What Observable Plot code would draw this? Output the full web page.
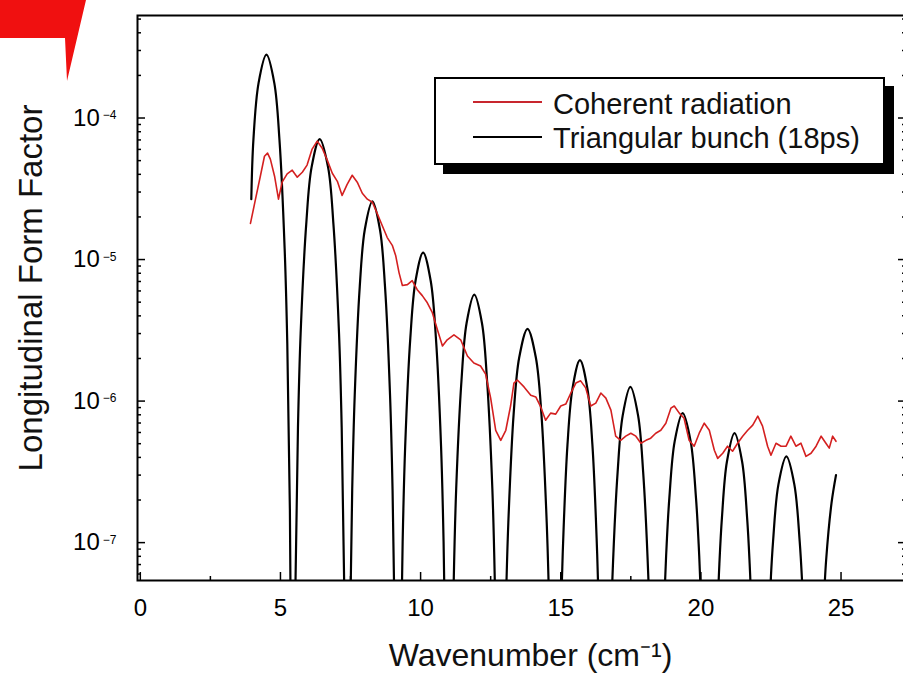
<!DOCTYPE html>
<html><head><meta charset="utf-8">
<script src="https://cdn.jsdelivr.net/npm/d3@7"></script>
<script src="https://cdn.jsdelivr.net/npm/@observablehq/plot@0.6"></script>
<style>
html,body{margin:0;padding:0;background:#fff;overflow:hidden;width:903px;height:676px;}
#wrap{position:relative;width:903px;height:676px;overflow:hidden;font-family:'Liberation Sans',Arial,sans-serif;}
#legend{position:absolute;left:434px;top:77px;width:447px;height:84px;border:2px solid #000;background:#fff;box-shadow:9px 9px 0 #000;}
.sw{position:absolute;left:37px;width:69px;height:0;border-top:2px solid;}
.lt{position:absolute;left:117px;font-size:29px;line-height:30px;color:#111;white-space:nowrap;}
#deco{position:absolute;left:0;top:0;width:90px;height:85px;background:#f01010;clip-path:polygon(0 0,86px 0,67px 81px,65px 38px,0 38px);}
</style></head>
<body><div id="wrap"></div>
<script>
// Tick values
const majorX = [0, 5, 10, 15, 20, 25];
const minorX = [2.5, 7.5, 12.5, 17.5, 22.5];
const majorY = [1e-7, 1e-6, 1e-5, 1e-4];
const minorY = [6e-8, 7e-8, 8e-8, 9e-8, 2e-7, 3e-7, 4e-7, 5e-7, 6e-7, 7e-7, 8e-7, 9e-7,
  2e-6, 3e-6, 4e-6, 5e-6, 6e-6, 7e-6, 8e-6, 9e-6, 2e-5, 3e-5, 4e-5, 5e-5, 6e-5, 7e-5, 8e-5, 9e-5,
  2e-4, 3e-4, 4e-4, 5e-4];

// Series names / labels
const seriesNames = ["Coherent radiation", "Triangular bunch (18ps)"];
const xLabel = "Wavenumber (cm\u207B\u00B9)";
const yLabel = "Longitudinal Form Factor";

// Coherent radiation (measured)
const redX = [3.93,4.11,4.29,4.43,4.54,4.64,4.79,4.93,5.06,5.24,
  5.42,5.60,5.78,5.95,6.13,6.31,6.49,6.67,6.85,7.03,
  7.20,7.38,7.56,7.74,7.92,8.10,8.28,8.45,8.63,8.81,
  8.99,9.11,9.23,9.35,9.53,9.70,9.88,10.06,10.24,10.42,
  10.60,10.78,10.95,11.19,11.43,11.67,11.90,12.14,12.32,12.50,
  12.68,12.86,13.04,13.21,13.33,13.45,13.69,13.93,14.11,14.29,
  14.46,14.64,14.82,15.00,15.18,15.36,15.54,15.71,15.89,16.07,
  16.25,16.43,16.61,16.79,16.96,17.14,17.32,17.50,17.68,17.86,
  18.04,18.21,18.39,18.57,18.75,18.93,19.05,19.23,19.40,19.58,
  19.76,19.94,20.12,20.30,20.48,20.60,20.78,20.95,21.13,21.31,
  21.49,21.67,21.85,22.03,22.20,22.38,22.50,22.68,22.86,23.04,
  23.21,23.39,23.57,23.75,23.93,24.11,24.29,24.46,24.58,24.70,
  24.82];
const redY = [1.80e-5,2.67e-5,3.94e-5,5.37e-5,5.65e-5,5.12e-5,3.88e-5,2.67e-5,3.52e-5,4.03e-5,
  4.28e-5,3.82e-5,4.14e-5,4.65e-5,6.03e-5,6.87e-5,6.12e-5,5.04e-5,4.07e-5,3.57e-5,
  2.84e-5,3.40e-5,3.94e-5,3.52e-5,2.94e-5,2.67e-5,2.54e-5,2.12e-5,1.74e-5,1.43e-5,
  1.26e-5,1.07e-5,8.09e-6,6.55e-6,6.65e-6,7.10e-6,6.12e-6,5.56e-6,4.95e-6,4.21e-6,
  3.19e-6,2.45e-6,2.71e-6,2.94e-6,2.71e-6,2.08e-6,1.86e-6,1.77e-6,1.55e-6,1.05e-6,
  6.22e-7,5.28e-7,6.22e-7,9.23e-7,1.34e-6,1.41e-6,1.26e-6,1.10e-6,1.07e-6,9.06e-7,
  7.33e-7,8.22e-7,8.09e-7,9.23e-7,9.53e-7,1.14e-6,1.34e-6,1.39e-6,1.24e-6,9.23e-7,
  9.68e-7,1.14e-6,1.05e-6,8.63e-7,5.65e-7,5.28e-7,5.65e-7,5.93e-7,5.65e-7,5.04e-7,
  5.28e-7,5.47e-7,5.93e-7,6.22e-7,6.98e-7,8.91e-7,9.23e-7,8.22e-7,7.57e-7,5.28e-7,
  4.80e-7,5.93e-7,6.98e-7,6.22e-7,4.49e-7,3.94e-7,4.28e-7,4.80e-7,4.42e-7,5.04e-7,
  5.65e-7,6.22e-7,6.76e-7,7.83e-7,6.65e-7,4.80e-7,4.14e-7,5.04e-7,4.80e-7,4.80e-7,
  5.65e-7,4.80e-7,5.04e-7,4.07e-7,4.28e-7,4.80e-7,5.65e-7,5.04e-7,4.65e-7,5.65e-7,
  5.20e-7];

// Triangular bunch (18ps) form factor
const blackX = [3.96,4.035,4.22,4.5,4.78,4.965,5.15,5.244,5.337,5.43,
  5.53,5.625,5.72,5.92,6.11,6.4,6.7,6.89,7.09,7.185,7.28,7.38,
  7.47,7.56,7.65,7.83,8.01,8.28,8.55,8.73,8.91,9.0,9.09,9.18,
  9.27,9.36,9.45,9.635,9.82,10.09,10.36,10.545,10.73,10.82,10.91,11.0,
  11.09,11.18,11.27,11.46,11.64,11.915,12.19,12.37,12.56,12.65,12.74,12.83,
  13.03,13.13,13.32,13.52,13.815,14.11,14.31,14.5,14.6,14.8,
  14.98,15.07,15.24,15.42,15.685,15.95,16.13,16.3,16.39,16.57,
  16.75,16.84,17.03,17.21,17.485,17.76,17.94,18.13,18.22,18.4,
  18.685,18.78,18.875,19.065,19.35,19.635,19.825,19.92,20.015,20.3,
  20.57,20.66,20.75,20.93,21.2,21.47,21.65,21.74,21.83,22.1,
  22.385,22.48,22.575,22.765,23.05,23.335,23.525,23.62,23.715,24.0,
  24.28,24.38,24.47,24.66,24.82];
const blackY = [2.67e-5,7.0e-5,1.77e-4,2.8e-4,1.77e-4,7.0e-5,1.19e-5,2.55e-6,1.69e-7,1e-9,
  4.3e-8,6.5e-7,3.0e-6,1.78e-5,4.48e-5,7.1e-5,4.48e-5,1.78e-5,3.0e-6,6.5e-7,4.3e-8,1e-9,
  1.55e-8,2.35e-7,1.1e-6,6.47e-6,1.63e-5,2.58e-5,1.63e-5,6.47e-6,1.1e-6,2.35e-7,1.55e-8,1e-9,
  7e-9,1.02e-7,4.79e-7,2.82e-6,7.08e-6,1.12e-5,7.08e-6,2.82e-6,4.79e-7,1.02e-7,7e-9,1e-9,
  3.4e-9,5.1e-8,2.4e-7,1.41e-6,3.55e-6,5.65e-6,3.55e-6,1.41e-6,2.4e-7,5.1e-8,3.4e-9,1e-9,
  2.95e-8,1.38e-7,8.13e-7,2.04e-6,3.24e-6,2.04e-6,8.13e-7,1.38e-7,2.95e-8,1e-9,
  1.78e-8,8.3e-8,4.9e-7,1.23e-6,1.95e-6,1.23e-6,4.9e-7,8.3e-8,1.78e-8,1e-9,
  1.15e-8,5.36e-8,3.16e-7,7.9e-7,1.26e-6,7.9e-7,3.16e-7,5.36e-8,1.15e-8,1e-9,
  3.5e-8,9.8e-8,2.07e-7,5.19e-7,8.22e-7,5.19e-7,2.07e-7,9.8e-8,3.5e-8,1e-9,
  2.5e-8,7.08e-8,1.49e-7,3.74e-7,5.93e-7,3.74e-7,1.49e-7,7.08e-8,2.5e-8,1e-9,
  1.7e-8,4.86e-8,1.02e-7,2.57e-7,4.07e-7,2.57e-7,1.02e-7,4.86e-8,1.7e-8,1e-9,
  1.3e-8,3.6e-8,7.6e-8,1.9e-7,3.0e-7];

const red = redX.map((x, i) => ({x, y: redY[i]}));
const black = blackX.map((x, i) => ({x, y: blackY[i]}));

const plot = Plot.plot({
  width: 910, height: 676,
  marginLeft: 137, marginRight: 5, marginTop: 15, marginBottom: 96,
  style: {background: "#fff", color: "#000", fontFamily: "'Liberation Sans', Arial, sans-serif", maxWidth: "none"},
  x: {domain: [-0.1, 27.3]},
  y: {type: "log", domain: [5.4e-8, 5.3e-4]},
  marks: [
    Plot.line(black, {x: "x", y: "y", stroke: "#000", strokeWidth: 2.2, clip: true, curve: "catmull-rom"}),
    Plot.line(red, {x: "x", y: "y", stroke: "#d42020", strokeWidth: 1.6, clip: true}),
    Plot.frame({stroke: "#000", strokeWidth: 2}),
    Plot.axisX(majorX, {tickSize: -8, tickPadding: 26, fontSize: 24, label: null, strokeWidth: 1.5, tickFormat: d => String(d)}),
    Plot.axisX(minorX, {tickSize: -4, fill: "none", label: null, strokeWidth: 1.5}),
    Plot.axisY(majorY, {tickSize: -8, tickPadding: 29, fontSize: 24, label: null, strokeWidth: 1.5,
      tickFormat: d => "10^" + Math.round(Math.log10(d))}),
    Plot.axisY(minorY, {tickSize: -4, fill: "none", label: null, strokeWidth: 1.5}),
    Plot.axisY(majorY, {anchor: "right", tickSize: -8, fill: "none", label: null, strokeWidth: 1.5}),
    Plot.axisY(minorY, {anchor: "right", tickSize: -4, fill: "none", label: null, strokeWidth: 1.5}),
    Plot.text([yLabel], {text: d => d, frameAnchor: "left", textAnchor: "middle", lineAnchor: "middle",
      dx: -106, dy: -10, rotate: -90, fontSize: 33, fill: "#111"}),
    Plot.text([xLabel], {text: d => d, frameAnchor: "bottom", textAnchor: "middle", lineAnchor: "middle",
      dx: 9, dy: 75, fontSize: 32, fill: "#111"})
  ]
});
plot.style.maxWidth = "none";
plot.style.display = "block";

d3.select(plot).selectAll('g[aria-label="y-axis tick label"] text').each(function () {
  const s = this.textContent;
  const parts = s.split("^");
  if (parts.length < 2) return;
  this.textContent = "";
  const t = d3.select(this);
  t.append("tspan").text(parts[0]);
  t.append("tspan").attr("dx", "3").attr("dy", "-0.55em").attr("font-size", "12px").text(parts[1].replace("-", "\u2212"));
});

const wrap = document.getElementById("wrap");
wrap.appendChild(plot);

const legend = document.createElement("div");
legend.id = "legend";
legend.innerHTML =
  '<div class="sw" style="top:22px;border-color:#c8262e"></div>' +
  '<div class="lt" style="top:10px"></div>' +
  '<div class="sw" style="top:57px;border-color:#000"></div>' +
  '<div class="lt" style="top:44px"></div>';
const lts = legend.querySelectorAll(".lt");
lts[0].textContent = seriesNames[0];
lts[1].textContent = seriesNames[1];
wrap.appendChild(legend);

const deco = document.createElement("div");
deco.id = "deco";
wrap.appendChild(deco);
</script>
</body></html>
